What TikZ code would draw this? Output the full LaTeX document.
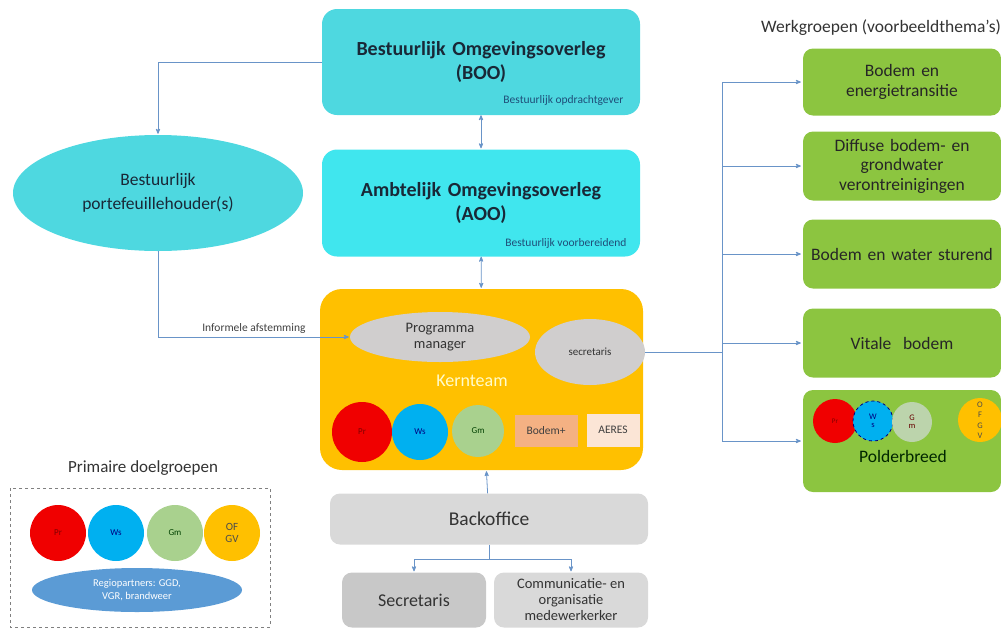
\documentclass[tikz,border=0pt]{standalone}
\usepackage{fontspec}
\setmainfont{Carlito}
\usepackage{tikz}
\usetikzlibrary{calc,positioning,arrows,shapes.geometric,shapes}
\definecolor{cyanbox}{RGB}{78,216,224}
\definecolor{cyanlight}{RGB}{64,230,238}
\definecolor{kernorange}{RGB}{255,192,0}
\definecolor{greybox}{RGB}{217,217,217}
\definecolor{greydark}{RGB}{200,200,200}
\definecolor{greyell}{RGB}{208,206,206}
\definecolor{wggreen}{RGB}{140,197,64}
\definecolor{prred}{RGB}{240,0,0}
\definecolor{wsblue}{RGB}{0,176,240}
\definecolor{gmgreen}{RGB}{169,209,142}
\definecolor{bodemplus}{RGB}{244,177,131}
\definecolor{aeres}{RGB}{251,229,214}
\definecolor{regioblue}{RGB}{91,155,213}
\definecolor{linkblue}{RGB}{105,148,200}
\definecolor{darktext}{RGB}{25,40,55}
\definecolor{smalltext}{RGB}{31,78,121}
\tikzset{
>=stealth',
  overleg/.style={
    rectangle,
    rounded corners=15pt,
    fill=cyanbox,
    minimum width=318pt,
    text width=310pt,
    align=center,
    font=\fontsize{20}{24}\selectfont\bfseries,
    text=darktext},
  werkgroep/.style={
    rectangle,
    rounded corners=10pt,
    fill=wggreen,
    minimum width=198pt,
    minimum height=69pt,
    text width=190pt,
    align=center,
    font=\fontsize{17.5}{19.5}\selectfont,
    text=black!85},
  greyblok/.style={
    rectangle,
    rounded corners=10pt,
    fill=greybox,
    align=center,
    text=black!80},
  partij/.style={circle, inner sep=0pt, font=\fontsize{9}{10}\selectfont},
  sublabel/.style={font=\fontsize{11.5}{12}\selectfont, text=smalltext},
  line/.style={draw=linkblue, thick},
  conn/.style={line, ->, shorten >=1pt},
}
\begin{document}
\begin{tikzpicture}[x=1pt,y=-1pt]
  \useasboundingbox (0,0) rectangle (1001,630);
  % bestuurlijke lagen
  \node[overleg, minimum height=106pt] (boo) at (481,62) {Bestuurlijk Omgevingsoverleg\\(BOO)};
  \node[sublabel, anchor=east] (boolab) at (627,100) {Bestuurlijk opdrachtgever};
  \node[overleg, fill=cyanlight, minimum height=107pt] (aoo) at (481,203) {Ambtelijk Omgevingsoverleg\\(AOO)};
  \node[sublabel, anchor=east] (aoolab) at (630,243) {Bestuurlijk voorbereidend};
  \node[ellipse, fill=cyanbox, minimum width=290pt, minimum height=116pt, align=center,
    font=\fontsize{17.5}{24}\selectfont, text=darktext] (pfh) at (158,193) {Bestuurlijk\\portefeuillehouder(s)};
  % kernteam
  \node[rectangle, rounded corners=22pt, fill=kernorange, minimum width=323pt, minimum height=181pt] (kern) at (481.5,379.5) {};
  \node[ellipse, fill=greyell, minimum width=180pt, minimum height=50pt, inner sep=0pt, align=center,
    font=\fontsize{14.5}{16}\selectfont, text=black!80] (pm) at (440,337) {Programma\\manager};
  \node[ellipse, fill=greyell, minimum width=110pt, minimum height=66pt, inner sep=0pt,
    font=\fontsize{11}{12}\selectfont, text=black!80] (sec) at (590,352) {secretaris};
  \node[font=\fontsize{18}{20}\selectfont, text=yellow!20] (kernlab) at (472,381) {Kernteam};
  \node[partij, fill=prred, minimum size=60pt, text=red!50!black] (kpr) at (362,432) {Pr};
  \node[partij, fill=wsblue, minimum size=56pt, text=blue!50!black] (kws) at (420,432) {Ws};
  \node[partij, fill=gmgreen, minimum size=52pt, text=green!25!black] (kgm) at (478,431) {Gm};
  \node[rectangle, fill=bodemplus, minimum width=63pt, minimum height=32pt, font=\fontsize{11.5}{12}\selectfont, text=black!75] (kbp) at (546,431) {Bodem+};
  \node[rectangle, fill=aeres, minimum width=53pt, minimum height=33pt, font=\fontsize{11.5}{12}\selectfont, text=black!75] (kae) at (613,430) {AERES};
  % backoffice
  \node[greyblok, minimum width=318pt, minimum height=51pt, font=\fontsize{19.5}{21}\selectfont] (back) at (489,519) {Backoffice};
  \node[greyblok, fill=greydark, minimum width=144pt, minimum height=55pt, font=\fontsize{18}{20}\selectfont] (secr) at (414,600) {Secretaris};
  \node[greyblok, minimum width=154pt, minimum height=55pt, font=\fontsize{14.5}{16}\selectfont] (comm) at (571,600) {Communicatie- en\\organisatie\\medewerkerker};
  % werkgroepen
  \node[font=\fontsize{17.5}{19}\selectfont, text=black!80] (werk) at (881,28) {Werkgroepen (voorbeeldthema’s)};
  \node[werkgroep, minimum height=67pt] (wg1) at (902,82) {Bodem en\\energietransitie};
  \node[werkgroep] (wg2) at (902,166) {Diffuse bodem- en\\grondwater\\verontreinigingen};
  \node[werkgroep] (wg3) at (902,254) {Bodem en water sturend};
  \node[werkgroep] (wg4) at (902,343) {Vitale\ \ bodem};
  \node[werkgroep, minimum height=102pt] (wg5) at (902,441) {};
  \node[partij, fill=prred, minimum size=44pt, font=\fontsize{7}{8}\selectfont, text=red!50!black] (ppr) at (835,421) {Pr};
  \node[partij, fill=wsblue, minimum size=40pt, draw=blue!50!black, dashed, thick, align=center,
    font=\fontsize{8.5}{8}\selectfont, text=blue!50!black] (pws) at (873,421) {W\\s};
  \node[partij, fill=gmgreen!60!greybox, minimum size=40pt, align=center,
    font=\fontsize{8.5}{8}\selectfont, text=red!40!black] (pgm) at (912,422) {G\\m};
  \node[partij, fill=kernorange, minimum size=44pt, align=center,
    font=\fontsize{8.5}{10.5}\selectfont, text=black!70] (pof) at (980,420) {O\\F\\G\\V};
  \node[font=\fontsize{17.5}{19}\selectfont, text=green!15!black] (polder) at (903,456) {Polderbreed};
  % primaire doelgroepen
  \node[font=\fontsize{17}{19}\selectfont, text=black!80] (prim) at (143,468) {Primaire doelgroepen};
  \draw[draw=gray, dashed, thick] (10,488) rectangle (270,627);
  \node[partij, fill=prred, minimum size=56pt, text=red!50!black] (dpr) at (58,533) {Pr};
  \node[partij, fill=wsblue, minimum size=56pt, text=blue!50!black] (dws) at (116,533) {Ws};
  \node[partij, fill=gmgreen, minimum size=56pt, text=green!25!black] (dgm) at (175,533) {Gm};
  \node[partij, fill=kernorange, minimum size=56pt, align=center, font=\fontsize{11}{12}\selectfont, text=black!70] (dof) at (232,533) {OF\\GV};
  \node[ellipse, fill=regioblue, minimum width=210pt, minimum height=44pt, inner sep=0pt, align=center,
    font=\fontsize{10.5}{13}\selectfont, text=white] (regio) at (137,590) {Regiopartners: GGD,\\VGR, brandweer};
  % verbindingen
  \draw[conn] (boo.west) -| (pfh.north);
  \draw[conn] (pfh.south) |- (pm.west) node[pos=0.75, above, font=\fontsize{11.5}{12}\selectfont, text=black!75] {Informele afstemming};
  \draw[conn, <->] (boo) -- (aoo);
  \draw[conn, <->] (aoo) -- (kern);
  \draw[conn] (back) -- (kern);
  \draw[line] (back.south) -- ++(0,15) coordinate (split);
  \draw[conn] (split) -| (secr.north);
  \draw[conn] (split) -| (comm.north);
  \coordinate (hub) at (722,352);
  \draw[line] (sec.east) -- (hub);
  \foreach \wg in {wg1,wg2,wg3,wg4,wg5}
    \draw[conn, shorten >=2pt] (hub) |- (\wg.west);
\end{tikzpicture}
\end{document}
